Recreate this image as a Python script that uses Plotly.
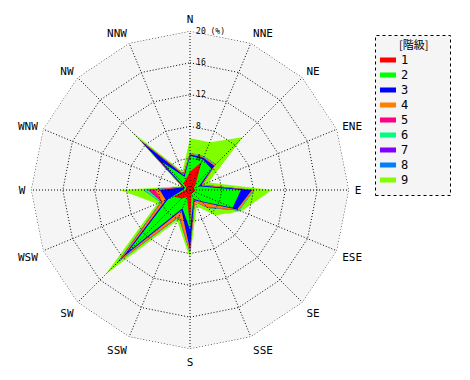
import numpy as np
import plotly.graph_objects as go

W, H = 470, 380

directions = ["N", "NNE", "NE", "ENE", "E", "ESE", "SE", "SSE",
              "S", "SSW", "SW", "WSW", "W", "WNW", "NW", "NNW"]

# frequency (%) per class and direction (non-cumulative)
class1 = [2.3, 3.8, 1.0, 0.5, 0.7, 0.6, 0.5, 0.5, 4.5, 1.0, 1.5, 2.2, 0.6, 0.4, 1.2, 1.4]
class2 = [2.0, 0.4, 2.8, 0.7, 5.7, 5.2, 1.5, 0.7, 0.5, 1.5, 9.5, 0.8, 0.3, 0.3, 3.8, 0.4]
class3 = [0.2, 0.2, 0.5, 0.3, 1.4, 0.6, 0.2, 0.2, 2.5, 0.3, 1.0, 0.3, 2.9, 0.2, 3.6, 0.2]
class4 = [0.1, 0.1, 0.2, 0.2, 0.2, 0.2, 0.8, 0.2, 0.3, 0.7, 0.5, 0.5, 0.6, 0.1, 0.2, 0.2]
class5 = [0.0, 0.0, 0.0, 0.0, 0.0, 0.0, 0.1, 0.0, 0.0, 0.1, 0.1, 0.1, 0.9, 0.0, 0.0, 0.0]
class6 = [0.1, 0.1, 0.1, 0.0, 0.1, 0.1, 0.1, 0.0, 0.1, 0.1, 0.2, 0.1, 0.5, 0.0, 0.1, 0.0]
class7 = [0.0, 0.0, 0.0, 0.0, 0.0, 0.0, 0.0, 0.0, 0.0, 0.0, 0.1, 0.0, 0.0, 0.0, 0.0, 0.0]
class8 = [0.0, 0.0, 0.0, 0.0, 0.0, 0.0, 0.0, 0.0, 0.0, 0.0, 0.1, 0.0, 0.1, 0.0, 0.0, 0.0]
class9 = [1.8, 1.9, 4.8, 0.8, 2.2, 0.3, 1.3, 0.6, 0.7, 0.5, 2.0, 0.5, 2.9, 0.2, 1.5, 0.3]

class_names = ["1", "2", "3", "4", "5", "6", "7", "8", "9"]
class_colors = ["#ff0000", "#00ff00", "#0000ff", "#ff8000", "#ff0080",
                "#00ff80", "#8000ff", "#0080ff", "#80ff00"]

radial_max = 20
radial_ticks = [4, 8, 12, 16, 20]
radial_ticktext = ["4", "8", "12", "16", "20 (%)"]
legend_title = "[階級]"

classes = [class1, class2, class3, class4, class5, class6, class7, class8, class9]
cum = np.cumsum(np.array(classes), axis=0)

fig = go.Figure()
theta = directions + [directions[0]]

# stacked class polygons (largest cumulative first)
for k in range(len(classes) - 1, -1, -1):
    r = list(cum[k]) + [cum[k][0]]
    fig.add_trace(go.Scatterpolar(
        r=r, theta=theta, mode="lines", fill="toself",
        fillcolor=class_colors[k], line=dict(width=0, color=class_colors[k]),
        name=class_names[k], showlegend=False, hoverinfo="skip"))

# dotted grid drawn above the data (as in the reference)
dot = "1px,2px"
ring_r, ring_t = [], []
for v in radial_ticks:
    ring_r += [v] * len(theta) + [None]
    ring_t += theta + [None]
fig.add_trace(go.Scatterpolar(r=ring_r, theta=ring_t, mode="lines",
                              line=dict(color="black", width=1, dash=dot),
                              showlegend=False, hoverinfo="skip"))
spoke_r, spoke_t = [], []
for d in directions:
    spoke_r += [0, radial_max, None]
    spoke_t += [d, d, None]
fig.add_trace(go.Scatterpolar(r=spoke_r, theta=spoke_t, mode="lines",
                              line=dict(color="black", width=1, dash=dot),
                              showlegend=False, hoverinfo="skip"))

mono = "DejaVu Sans Mono"
fig.update_layout(
    width=W, height=H,
    margin=dict(l=0, r=0, t=0, b=0),
    paper_bgcolor="white",
    showlegend=False,
    polar=dict(
        domain=dict(x=[31 / W, 349 / W], y=[31 / H, 349 / H]),
        bgcolor="#f5f5f5",
        gridshape="linear",
        angularaxis=dict(
            type="category", categoryarray=directions,
            rotation=90, direction="clockwise",
            showline=False, ticks="outside", ticklen=3, tickcolor="rgba(0,0,0,0)",
            showgrid=False,
            tickfont=dict(family=mono, size=11, color="black")),
        radialaxis=dict(
            range=[0, radial_max], angle=90, tickangle=90,
            tickvals=radial_ticks, ticktext=radial_ticktext,
            showline=False, ticks="outside", ticklen=4, tickcolor="rgba(0,0,0,0)",
            showgrid=False,
            tickfont=dict(family=mono, size=8, color="black"),
            layer="above traces"),
    ),
)

# legend box
x0, x1 = 375.5, 450.5
y0, y1 = 35.5, 195.5
fig.add_shape(type="rect", xref="paper", yref="paper",
              x0=x0 / W, x1=x1 / W, y0=1 - y1 / H, y1=1 - y0 / H,
              line=dict(color="black", width=1, dash="dot"), fillcolor="#f5f5f5",
              layer="below")
fig.add_annotation(x=413 / W, y=1 - 44 / H, xref="paper", yref="paper",
                   text=legend_title, showarrow=False, xanchor="center", yanchor="middle",
                   font=dict(family="Noto Sans CJK JP", size=11, color="black"))
for i, (nm, col) in enumerate(zip(class_names, class_colors)):
    yc = 60 + 15 * i
    fig.add_shape(type="rect", xref="paper", yref="paper",
                  x0=380 / W, x1=396 / W, y0=1 - (yc + 2.5) / H, y1=1 - (yc - 2.5) / H,
                  line=dict(width=0), fillcolor=col)
    fig.add_annotation(x=399 / W, y=1 - yc / H, xref="paper", yref="paper",
                       text=nm, showarrow=False, xanchor="left", yanchor="middle",
                       font=dict(family=mono, size=12, color="black"))

fig.write_html("out.html", config={"displayModeBar": False},
               post_script="document.body.style.margin='0';document.body.style.overflow='hidden';")
